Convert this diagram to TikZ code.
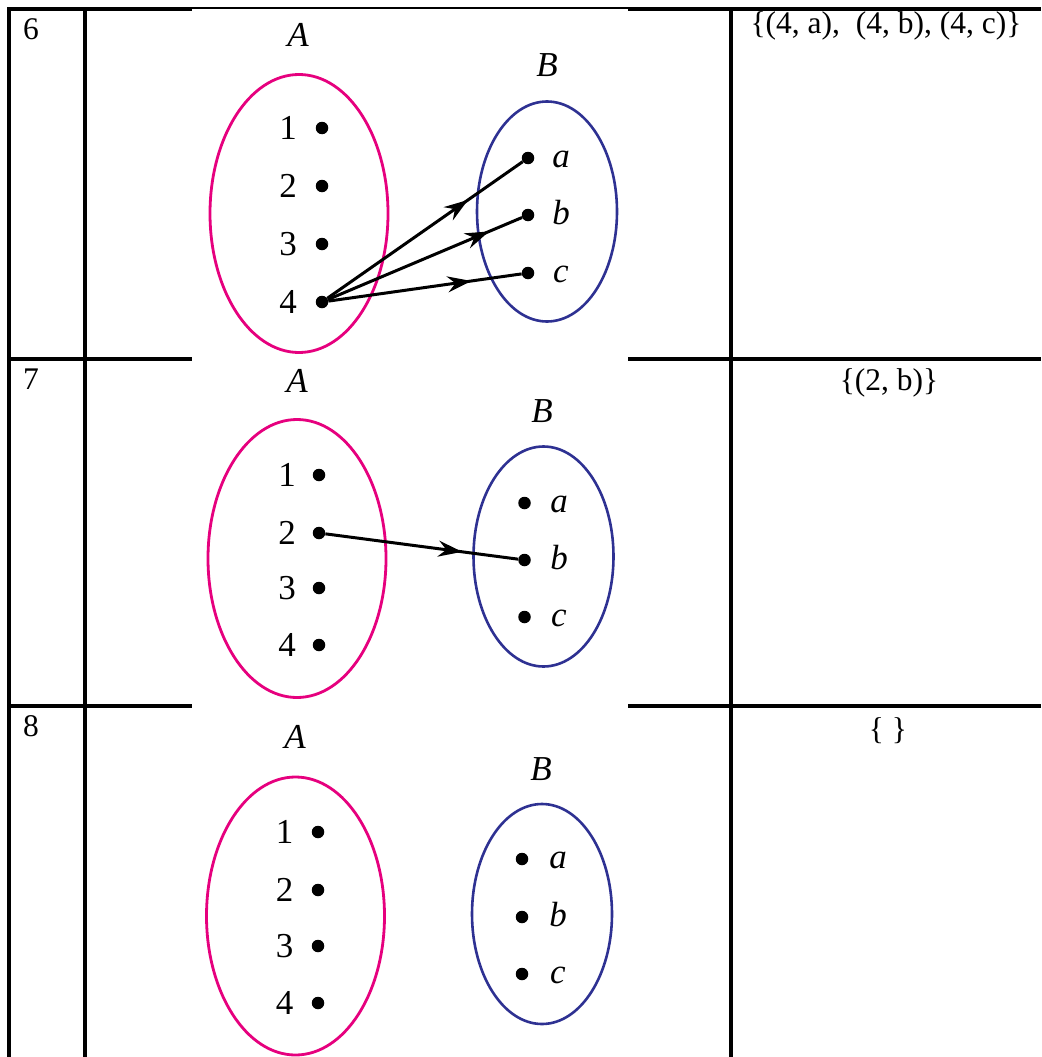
\documentclass[tikz,border=0pt]{standalone}
\usepackage{fontspec}
\setmainfont{Liberation Serif}
\usetikzlibrary{shapes.geometric,arrows.meta,decorations.markings}
\definecolor{setAcol}{RGB}{230,0,126}
\definecolor{setBcol}{RGB}{46,49,146}
\begin{document}
\begin{tikzpicture}[x=1pt,y=-1pt,
  grid/.style={line width=3.2pt},
  thingrid/.style={line width=1.3pt},
  cell/.style={font=\fontsize{31.5}{36}\selectfont, anchor=base, inner sep=0pt},
  setA/.style={ellipse, draw=setAcol, line width=2.8pt, inner sep=0pt, minimum width=178pt, minimum height=278pt},
  setB/.style={ellipse, draw=setBcol, line width=2.6pt, inner sep=0pt, minimum width=140pt, minimum height=220pt},
  elem/.style={circle, fill=black, inner sep=0pt, minimum size=12.5pt},
  lbl/.style={font=\fontsize{35}{40}\selectfont, anchor=base, inner sep=0pt},
  map/.style={line width=3pt,
    decoration={markings, mark=at position #1 with {\arrow{Stealth[length=24pt,width=16pt,inset=8pt]}}},
    postaction={decorate}},
  map/.default=0.72]
\useasboundingbox (0,0) rectangle (1041,1057);
\fill[white] (0,0) rectangle (1041,1057);

% table lines
\draw[grid] (9,7.5) -- (9,1057);
\draw[grid] (85,9) -- (85,1057);
\draw[grid] (731,9) -- (731,1057);
\draw[grid] (7.5,9) -- (192,9);
\draw[thingrid] (192,8) -- (628,8);
\draw[grid] (628,9) -- (1041,9);
\draw[grid] (7.5,359) -- (192,359);
\draw[grid] (628,359) -- (1041,359);
\draw[grid] (7.5,706) -- (192,706);
\draw[grid] (628,706) -- (1041,706);

% ---------------- row 6 ----------------
\node[cell] (n6) at (31,40) {6};
\node[cell] (r6) at (886,34) {\{(4, a),\ \ (4, b), (4, c)\}};
\node[setA] (A6) at (299,213.5) {};
\node[setB] (B6) at (547,211.5) {};
\node[lbl] (LA6) at (298,47) {\textit{A}};
\node[lbl] (LB6) at (547,77) {\textit{B}};
\node[elem] (d61) at (322,128) {};
\node[elem] (d62) at (322,186) {};
\node[elem] (d63) at (322,244) {};
\node[elem] (d64) at (322,302) {};
\node[lbl] (t61) at (288,139) {1};
\node[lbl] (t62) at (288,197) {2};
\node[lbl] (t63) at (288,255) {3};
\node[lbl] (t64) at (288,313) {4};
\node[elem] (d6a) at (528,158) {};
\node[elem] (d6b) at (528,215) {};
\node[elem] (d6c) at (528,273) {};
\node[lbl] (t6a) at (561,167.5) {\textit{a}};
\node[lbl] (t6b) at (561,224.5) {\textit{b}};
\node[lbl] (t6c) at (561,282.5) {\textit{c}};
\draw[map=0.72] (d64) -- (d6a);
\draw[map=0.83] (d64) -- (d6b);
\draw[map=0.74] (d64) -- (d6c);

% ---------------- row 7 ----------------
\node[cell] (n7) at (31,389) {7};
\node[cell] (r7) at (889,390) {\{(2, b)\}};
\node[setA] (A7) at (297,558.5) {};
\node[setB] (B7) at (543.5,556.5) {};
\node[lbl] (LA7) at (297,392) {\textit{A}};
\node[lbl] (LB7) at (542,422) {\textit{B}};
\node[elem] (d71) at (319,475) {};
\node[elem] (d72) at (319,533) {};
\node[elem] (d73) at (319,588) {};
\node[elem] (d74) at (319,645) {};
\node[lbl] (t71) at (287,486) {1};
\node[lbl] (t72) at (287,544) {2};
\node[lbl] (t73) at (287,599) {3};
\node[lbl] (t74) at (287,656) {4};
\node[elem] (d7a) at (524.5,503) {};
\node[elem] (d7b) at (524.5,560) {};
\node[elem] (d7c) at (524.5,617) {};
\node[lbl] (t7a) at (559,512.5) {\textit{a}};
\node[lbl] (t7b) at (559,569.5) {\textit{b}};
\node[lbl] (t7c) at (559,626.5) {\textit{c}};
\draw[map=0.71] (d72) -- (d7b);

% ---------------- row 8 ----------------
\node[cell] (n8) at (31,736) {8};
\node[cell] (r8) at (888,739) {\{ \}};
\node[setA] (A8) at (295.5,916) {};
\node[setB] (B8) at (542,914) {};
\node[lbl] (LA8) at (295,748) {\textit{A}};
\node[lbl] (LB8) at (541,780) {\textit{B}};
\node[elem] (d81) at (318,832) {};
\node[elem] (d82) at (318,890) {};
\node[elem] (d83) at (318,946) {};
\node[elem] (d84) at (318,1003) {};
\node[lbl] (t81) at (284.5,843) {1};
\node[lbl] (t82) at (284.5,901) {2};
\node[lbl] (t83) at (284.5,957) {3};
\node[lbl] (t84) at (284.5,1014) {4};
\node[elem] (d8a) at (522,859) {};
\node[elem] (d8b) at (522,917) {};
\node[elem] (d8c) at (522,974) {};
\node[lbl] (t8a) at (558,868.5) {\textit{a}};
\node[lbl] (t8b) at (558,926.5) {\textit{b}};
\node[lbl] (t8c) at (558,983.5) {\textit{c}};
\end{tikzpicture}
\end{document}
